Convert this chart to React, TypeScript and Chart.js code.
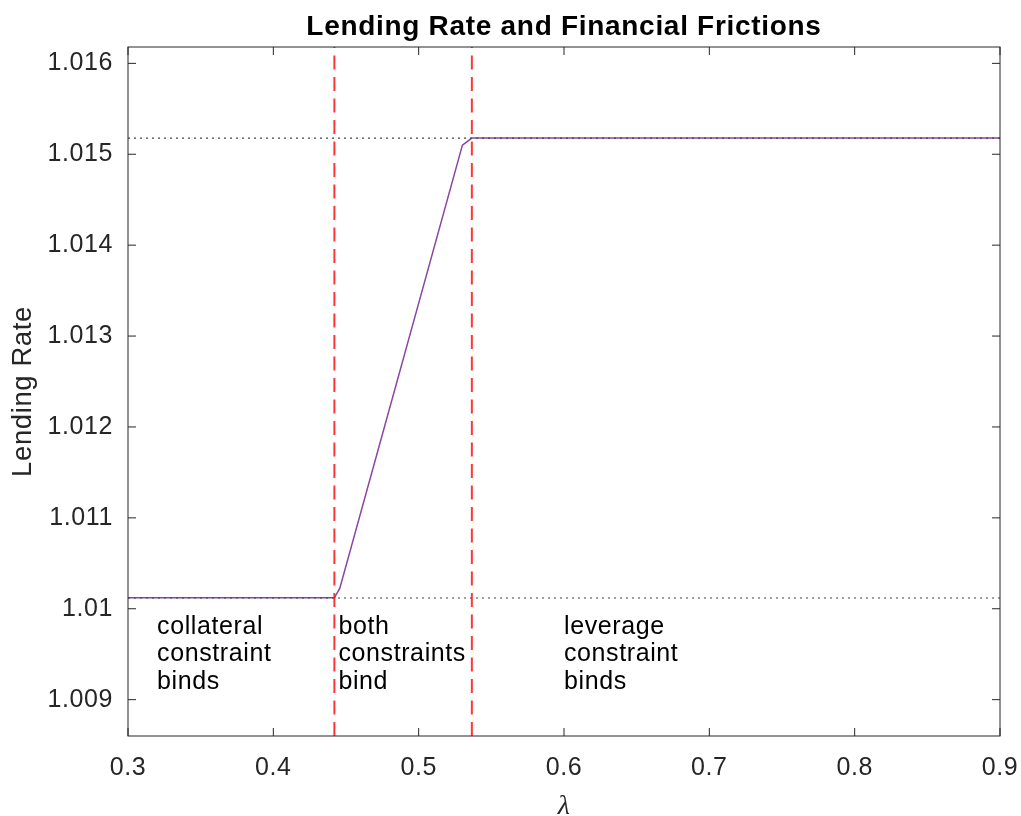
import React, { useEffect, useRef } from "react";
import { Chart, registerables } from "chart.js";

Chart.register(...registerables);

// ---- data ----
const lambdaGrid = [0.3, 0.442, 0.4457, 0.5301, 0.5366, 0.9];
const lendingRate = [1.01012, 1.01012, 1.010224, 1.015101, 1.015178, 1.015178];

const rateLowerBound = 1.010118;
const rateUpperBound = 1.015178;

const lambdaCollateralCut = 0.442;
const lambdaLeverageCut = 0.5366;

const xTickValues = [0.3, 0.4, 0.5, 0.6, 0.7, 0.8, 0.9];
const xTickLabels = ["0.3", "0.4", "0.5", "0.6", "0.7", "0.8", "0.9"];
const yTickValues = [1.009, 1.01, 1.011, 1.012, 1.013, 1.014, 1.015, 1.016];
const yTickLabels = ["1.009", "1.01", "1.011", "1.012", "1.013", "1.014", "1.015", "1.016"];

const xRange = [0.3, 0.9];
const yRange = [1.0086, 1.01618];

const chartTitle = "Lending Rate and Financial Frictions";

const regionLabels = [
  ["collateral", "constraint", "binds"],
  ["both", "constraints", "bind"],
  ["leverage", "constraint", "binds"],
];
const regionLabelX = [0.32, 0.4448, 0.6];
const regionLabelY = [1.0095, 1.0095, 1.0095];

const FONT = "'Liberation Sans', Arial, Helvetica, sans-serif";
const AXIS_COLOR = "#262626";

const spacingPlugin = {
  id: "letterSpacing",
  beforeDraw(chart: any) {
    (chart.ctx as any).letterSpacing = "0.6px";
  },
  afterDraw(chart: any) {
    (chart.ctx as any).letterSpacing = "0px";
  },
};

const framePlugin = {
  id: "frameAndTicks",
  afterDatasetsDraw(chart: any) {
    const { ctx, chartArea, scales } = chart;
    const { left, top, right, bottom } = chartArea;
    const xs = scales.x;
    const ys = scales.y;
    ctx.save();
    ctx.strokeStyle = AXIS_COLOR;
    ctx.lineWidth = 1;
    ctx.strokeRect(left, top, right - left, bottom - top);
    const tl = 8;
    ctx.beginPath();
    xTickValues.forEach((v) => {
      const px = xs.getPixelForValue(v);
      ctx.moveTo(px, bottom);
      ctx.lineTo(px, bottom - tl);
      ctx.moveTo(px, top);
      ctx.lineTo(px, top + tl);
    });
    yTickValues.forEach((v) => {
      const py = ys.getPixelForValue(v);
      ctx.moveTo(left, py);
      ctx.lineTo(left + tl, py);
      ctx.moveTo(right, py);
      ctx.lineTo(right - tl, py);
    });
    ctx.stroke();

    // title, centred over the plot area
    ctx.fillStyle = "#000000";
    ctx.letterSpacing = "0.7px";
    ctx.font = `bold 28px ${FONT}`;
    ctx.textAlign = "center";
    ctx.textBaseline = "middle";
    ctx.fillText(chartTitle, (left + right) / 2, 27);

    // region annotations
    ctx.letterSpacing = "0.6px";
    ctx.font = `25px ${FONT}`;
    ctx.textAlign = "left";
    ctx.textBaseline = "middle";
    const lh = 27.5;
    regionLabels.forEach((lines, i) => {
      const px = xs.getPixelForValue(regionLabelX[i]);
      const pyc = ys.getPixelForValue(regionLabelY[i]);
      const n = lines.length;
      lines.forEach((t, j) => {
        ctx.fillText(t, px, pyc + (j - (n - 1) / 2) * lh);
      });
    });
    ctx.restore();
  },
};

export default function App() {
  const canvasRef = useRef<HTMLCanvasElement | null>(null);

  useEffect(() => {
    const canvas = canvasRef.current;
    if (!canvas) return;

    const mkLine = (xv: number[], yv: number[]) => xv.map((x, i) => ({ x, y: yv[i] }));

    const chart = new Chart(canvas, {
      type: "line",
      data: {
        datasets: [
          {
            label: "Lending Rate",
            data: mkLine(lambdaGrid, lendingRate),
            borderColor: "#8a45a0",
            borderWidth: 1.5,
            pointRadius: 0,
            tension: 0,
            fill: false,
            order: 3,
          },
          {
            label: "upper",
            data: mkLine(xRange, [rateUpperBound, rateUpperBound]),
            borderColor: "#444444",
            borderWidth: 1.2,
            borderDash: [2, 4],
            pointRadius: 0,
            order: 2,
          },
          {
            label: "lower",
            data: mkLine(xRange, [rateLowerBound, rateLowerBound]),
            borderColor: "#444444",
            borderWidth: 1.2,
            borderDash: [2, 4],
            pointRadius: 0,
            order: 2,
          },
          {
            label: "cut1",
            data: mkLine([lambdaCollateralCut, lambdaCollateralCut], yRange),
            borderColor: "rgba(255,20,20,0.85)",
            borderWidth: 2,
            borderDash: [14, 7.5],
            pointRadius: 0,
            order: 1,
          },
          {
            label: "cut2",
            data: mkLine([lambdaLeverageCut, lambdaLeverageCut], yRange),
            borderColor: "rgba(255,20,20,0.85)",
            borderWidth: 2,
            borderDash: [14, 7.5],
            pointRadius: 0,
            order: 1,
          },
        ],
      },
      options: {
        animation: false,
        responsive: false,
        maintainAspectRatio: false,
        layout: { padding: { left: 0, right: 21, top: 47, bottom: 0 } },
        plugins: {
          legend: { display: false },
          tooltip: { enabled: false },
          title: { display: false },
        },
        scales: {
          x: {
            type: "linear",
            min: xRange[0],
            max: xRange[1],
            grid: { display: false, drawTicks: false },
            border: { display: false },
            afterBuildTicks: (scale: any) => {
              scale.ticks = xTickValues.map((v) => ({ value: v }));
            },
            afterFit: (scale: any) => {
              scale.height = 80;
              scale.paddingLeft = 0;
              scale.paddingRight = 0;
            },
            ticks: {
              color: AXIS_COLOR,
              font: { family: FONT, size: 25, lineHeight: 1.2 },
              padding: 17,
              maxRotation: 0,
              autoSkip: false,
              callback: (_v: any, i: number) => xTickLabels[i],
            },
            title: {
              display: true,
              text: "λ",
              color: AXIS_COLOR,
              font: { family: "'Liberation Serif', 'DejaVu Serif', serif", size: 28, style: "italic", lineHeight: 0.7 },
              padding: { top: 0, bottom: 0 },
            },
          },
          y: {
            type: "linear",
            min: yRange[0],
            max: yRange[1],
            grid: { display: false, drawTicks: false },
            border: { display: false },
            afterBuildTicks: (scale: any) => {
              scale.ticks = yTickValues.map((v) => ({ value: v }));
            },
            afterFit: (scale: any) => {
              scale.width = 128;
              scale.paddingTop = 0;
              scale.paddingBottom = 0;
            },
            ticks: {
              color: AXIS_COLOR,
              font: { family: FONT, size: 25, lineHeight: 1.2 },
              padding: 15,
              autoSkip: false,
              callback: (_v: any, i: number) => yTickLabels[i],
            },
            title: {
              display: true,
              text: "Lending Rate",
              color: AXIS_COLOR,
              font: { family: FONT, size: 27.5, lineHeight: 1.2 },
              padding: { top: 7, bottom: 0 },
            },
          },
        },
      },
      plugins: [spacingPlugin, framePlugin],
    } as any);

    return () => chart.destroy();
  }, []);

  return (
    <div style={{ position: "fixed", left: 0, top: 0, width: 1021, height: 816, background: "#ffffff" }}>
      <canvas ref={canvasRef} width={1021} height={816} style={{ width: 1021, height: 816, display: "block" }} />
    </div>
  );
}
